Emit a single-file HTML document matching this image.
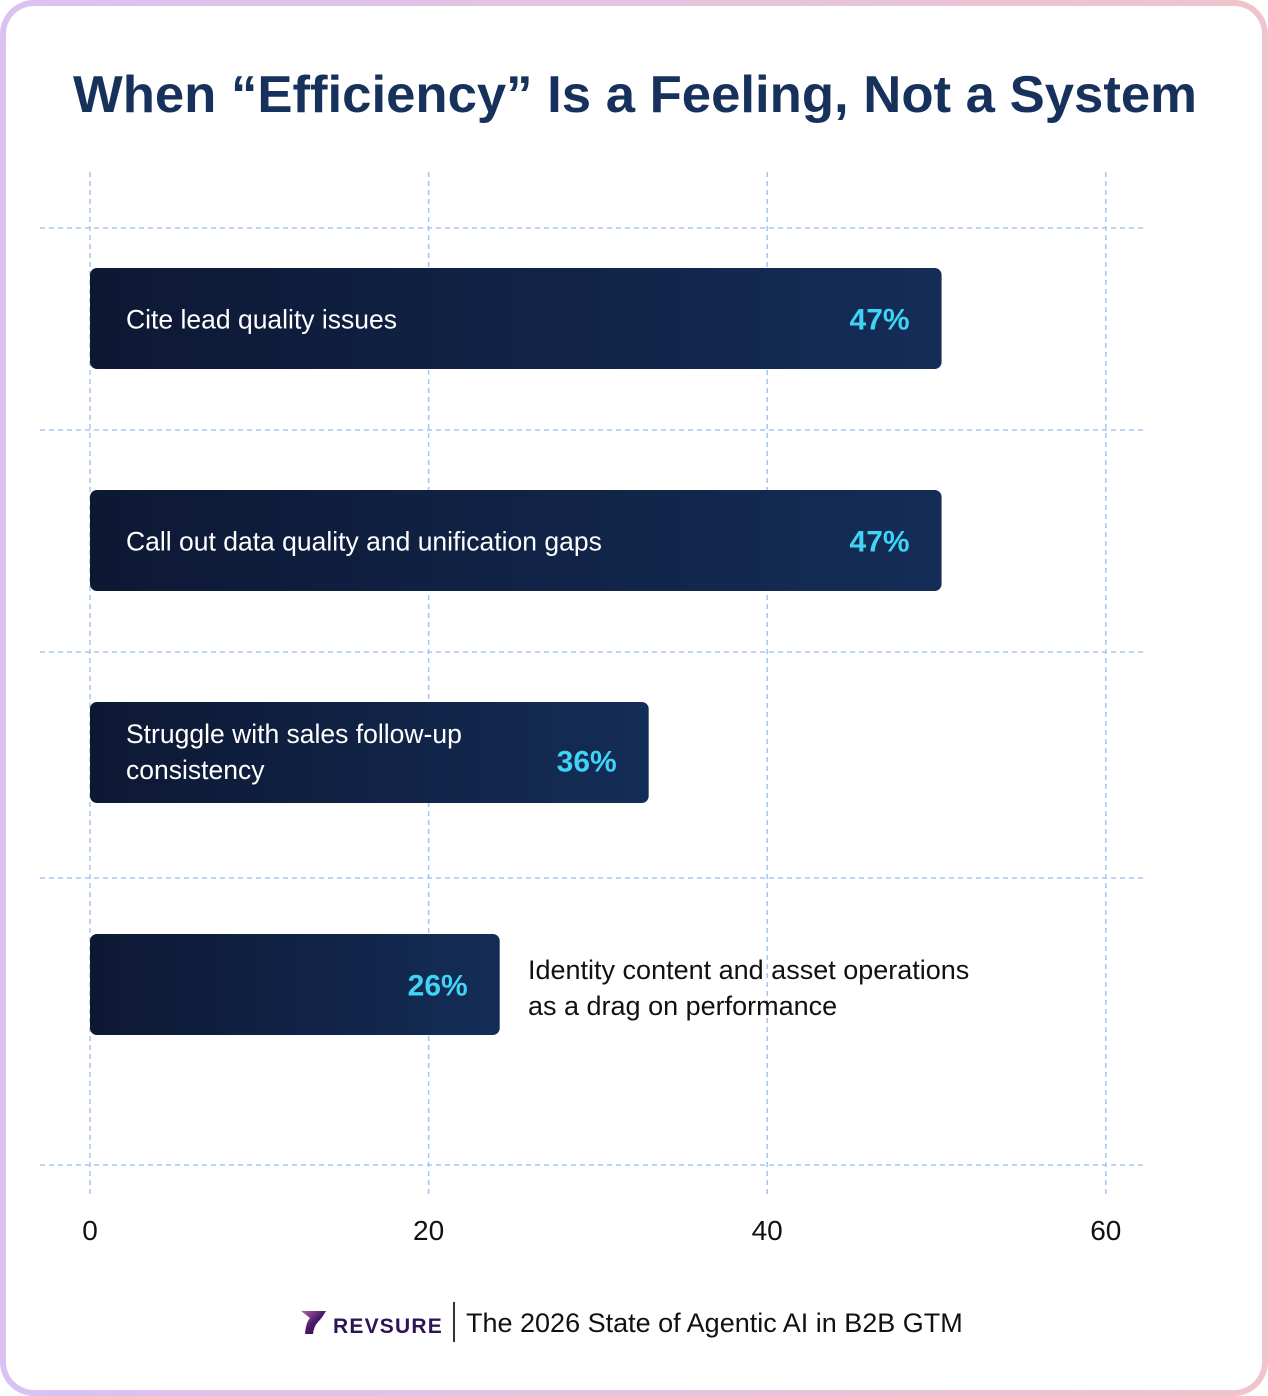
<!DOCTYPE html>
<html><head><meta charset="utf-8">
<style>
html,body{margin:0;padding:0;background:#fff;}
body{width:1268px;height:1396px;position:relative;overflow:hidden;font-family:"Liberation Sans",sans-serif;}
.frame{position:absolute;left:0;top:0;width:1268px;height:1396px;border-radius:34px;background:linear-gradient(90deg,#d9c2f2,#efc4cc);}
.inner{position:absolute;left:6px;top:6px;width:1256px;height:1384px;border-radius:28px;background:#fff;}
svg{position:absolute;left:0;top:0;}
</style></head>
<body>
<div class="frame"></div>
<div class="inner"></div>
<svg width="1268" height="1396">
<defs>
<linearGradient id="bg" x1="0" x2="1" y1="0" y2="0"><stop offset="0" stop-color="#0d1833"/><stop offset="1" stop-color="#142d57"/></linearGradient>
<linearGradient id="lg" x1="0" x2="1" y1="0" y2="1"><stop offset="0" stop-color="#b565a8"/><stop offset="0.5" stop-color="#4a1b6b"/><stop offset="1" stop-color="#2a0f4a"/></linearGradient>
</defs>
<text x="635" y="112" text-anchor="middle" font-size="52" font-weight="bold" fill="#16325c" textLength="1124" lengthAdjust="spacingAndGlyphs">When “Efficiency” Is a Feeling, Not a System</text>
<g id="grid"></g>
<g id="bars"></g>
<g id="ticks"></g>
<g>
<path d="M301 1311 L326 1311 Q322 1318 318 1322 Q314 1326 313 1334 L305 1334 Q306 1322 310 1318 Z" fill="url(#lg)"/>
<text x="333" y="1333" font-size="21" font-weight="bold" fill="#2d1458" letter-spacing="1.2">REVSURE</text>
<line x1="454" y1="1302" x2="454" y2="1342" stroke="#333" stroke-width="2"/>
<text x="466" y="1332" font-size="27" fill="#111">The 2026 State of Agentic AI in B2B GTM</text>
</g>
</svg>
<script>
const categories=["Cite lead quality issues","Call out data quality and unification gaps","Struggle with sales follow-up|consistency","Identity content and asset operations|as a drag on performance"];
const barLengths=[50.3,50.3,33,24.2];
const valueLabels=["47%","47%","36%","26%"];
const tickValues=[0,20,40,60];
const NS="http://www.w3.org/2000/svg";
const x0=90,pxPer=16.93;
const xs=v=>x0+v*pxPer;
const barTops=[268,490,702,934],barH=101;
const hLines=[228,430,652,878,1165];
function mk(t,a,p){const e=document.createElementNS(NS,t);for(const k in a)e.setAttribute(k,a[k]);p.appendChild(e);return e;}
const grid=document.getElementById('grid'),bars=document.getElementById('bars'),ticks=document.getElementById('ticks');
tickValues.forEach(v=>{
 const l=mk('line',{x1:xs(v),x2:xs(v),y1:172,y2:1196,stroke:'#a9c6f0','stroke-width':1.5,'stroke-dasharray':'5 4'},grid);
 
 
 const t=mk('text',{x:xs(v),y:1240,'text-anchor':'middle','font-size':28,fill:'#111'},ticks);
 t.textContent=v;
 
 
});
hLines.forEach((y,i)=>{
 const l=mk('line',{x1:40,x2:1146,y1:y,y2:y,stroke:'#a9c6f0','stroke-width':1.5,'stroke-dasharray':'5 4'},grid);
 
 
});
categories.forEach((c,i)=>{
 const y=barTops[i],w=xs(barLengths[i])-x0;
 const r=mk('rect',{x:x0,y:y,width:w,height:barH,rx:7,fill:'url(#bg)'},bars);
 
 
 const lines=c.split('|');
 const vy=i===2?y+barH/2+19:y+barH/2+11;
 const v=mk('text',{x:x0+w-32,y:vy,'text-anchor':'end','font-size':30,'font-weight':'bold',fill:'#3fd4f5'},bars);
 v.textContent=valueLabels[i];
 
 
 const inside=i<3;
 const lx=inside?126:528, fill=inside?'#fff':'#111';
 const startY=lines.length===1?y+barH/2+10:(inside?y+41:y+45);
 const lh=36;
 lines.forEach((ln,j)=>{
  const t=mk('text',{x:lx,y:startY+j*lh,'font-size':inside?26.5:27,fill:fill},bars);
  t.textContent=ln;
  
  
 });
});
</script>
</body></html>
